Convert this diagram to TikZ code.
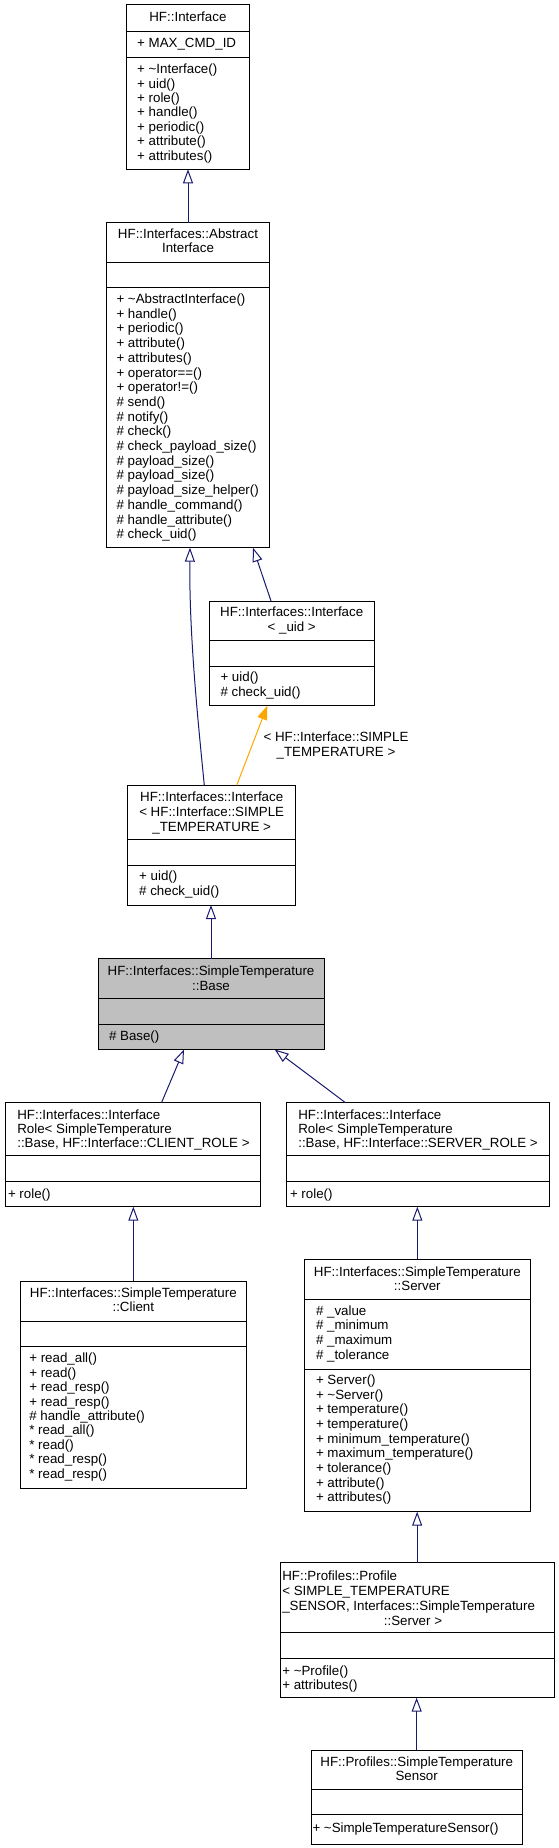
\documentclass[tikz,border=0pt]{standalone}
\usepackage{fontspec}
\setmainfont{Liberation Sans}
\usetikzlibrary{arrows.meta,calc}
\definecolor{edgeblue}{HTML}{191970}
\definecolor{edgeorange}{HTML}{FFA500}
\definecolor{basegray}{HTML}{BFBFBF}
\tikzset{
  clsbox/.style={draw=black, line width=0.75pt, inner sep=0pt, outer sep=0pt},
  clsrule/.style={draw=black, line width=0.75pt},
  txt/.style={inner sep=0pt, outer sep=0pt, font=\fontsize{10pt}{11pt}\selectfont},
  lt/.style={txt, anchor=base west},
  ct/.style={txt, anchor=base},
  inh/.style={draw=edgeblue, line width=0.75pt, -{Triangle[open, length=10.5pt, width=7.5pt]}},
  tmpl/.style={draw=edgeorange, line width=0.75pt, -{Triangle[length=10.5pt, width=7.5pt, fill=edgeorange]}},
}
% name, left, right, top, divider1, divider2, bottom, fill
\newcommand\umlcls[8]{%
  \node[clsbox, fill=#8, anchor=north west, minimum width={(#3-(#2))*0.75pt}, minimum height={(#7-(#4))*0.75pt}] (#1) at (#2,#4) {};
  \draw[clsrule] (#2,#5) -- (#3,#5);
  \draw[clsrule] (#2,#6) -- (#3,#6);
}
% name prefix, x, first baseline, step, style, list of lines
\newcommand\umllines[6]{%
  \foreach \lbl [count=\idx] in {#6} {
    \node[#5] (#1\idx) at (#2,{#3+(\idx-1)*#4}) {\lbl};
  }
}
\begin{document}
\begin{tikzpicture}[x=0.75pt,y=-0.75pt]
\useasboundingbox (0,0) rectangle (559,1848);

% HF::Interface
\umlcls{iface}{126.7}{249}{5}{31.7}{57.3}{169.3}{white}
\umllines{ifaceT}{187.9}{22}{14.5}{ct}{HF::Interface}
\umllines{ifaceA}{137.2}{47.5}{14.5}{lt}{+ MAX\_CMD\_ID}
\umllines{ifaceM}{137.2}{73.8}{14.4}{lt}{+ \textasciitilde Interface(), + uid(), + role(), + handle(), + periodic(), + attribute(), + attributes()}

% AbstractInterface
\umlcls{absif}{106.7}{269.3}{222.7}{262.3}{287.7}{547.7}{white}
\umllines{absifT}{188}{238.5}{14.4}{ct}{HF::Interfaces::Abstract, Interface}
\umllines{absifM}{116.5}{303.5}{14.7}{lt}{+ \textasciitilde AbstractInterface(), + handle(), + periodic(), + attribute(), + attributes(), + operator==(), + operator!=(), \# send(), \# notify(), \# check(), \# check\_payload\_size(), \# payload\_size(), \# payload\_size(), \# payload\_size\_helper(), \# handle\_command(), \# handle\_attribute(), \# check\_uid()}

% Interface< _uid >
\umlcls{ifuid}{209}{374.3}{601}{640}{666}{705.7}{white}
\umllines{ifuidT}{291.7}{616.8}{14.8}{ct}{HF::Interfaces::Interface, < \_uid >}
\umllines{ifuidM}{220.5}{681.8}{14.8}{lt}{+ uid(), \# check\_uid()}

% Interface< HF::Interface::SIMPLE_TEMPERATURE >
\umlcls{ifsimp}{127.7}{295.7}{785.3}{839.3}{865}{905}{white}
\umllines{ifsimpT}{211.7}{801.2}{15}{ct}{HF::Interfaces::Interface, < HF::Interface::SIMPLE, \_TEMPERATURE >}
\umllines{ifsimpM}{139.2}{880.5}{15}{lt}{+ uid(), \# check\_uid()}

% SimpleTemperature::Base
\umlcls{base}{98}{324}{958.5}{998.5}{1024.5}{1049.5}{basegray}
\umllines{baseT}{211}{975.5}{14.5}{ct}{HF::Interfaces::SimpleTemperature, ::Base}
\umllines{baseM}{109}{1040.5}{14.5}{lt}{\# Base()}

% InterfaceRole CLIENT
\umlcls{crole}{5}{260}{1102.7}{1155}{1181}{1206.7}{white}
\umllines{croleT}{17.3}{1119.3}{14.3}{lt}{HF::Interfaces::Interface, Role< SimpleTemperature, {::Base, HF::Interface::CLIENT\_ROLE >}}
\umllines{croleM}{8}{1198.5}{14.5}{lt}{+ role()}

% InterfaceRole SERVER
\umlcls{srole}{286}{549.5}{1102.7}{1155}{1181}{1206.7}{white}
\umllines{sroleT}{298.3}{1119.3}{14.3}{lt}{HF::Interfaces::Interface, Role< SimpleTemperature, {::Base, HF::Interface::SERVER\_ROLE >}}
\umllines{sroleM}{290}{1198.5}{14.5}{lt}{+ role()}

% Client
\umlcls{client}{20}{246.7}{1281}{1321.7}{1346.7}{1488.3}{white}
\umllines{clientT}{133.3}{1297}{14.2}{ct}{HF::Interfaces::SimpleTemperature, ::Client}
\umllines{clientM}{29.3}{1362.8}{14.4}{lt}{+ read\_all(), + read(), + read\_resp(), + read\_resp(), \# handle\_attribute(), * read\_all(), * read(), * read\_resp(), * read\_resp()}

% Server
\umlcls{server}{304}{530.7}{1259}{1299.3}{1369.3}{1511.7}{white}
\umllines{serverT}{417.3}{1276}{14.4}{ct}{HF::Interfaces::SimpleTemperature, ::Server}
\umllines{serverA}{316}{1315.2}{14.6}{lt}{\# \_value, \# \_minimum, \# \_maximum, \# \_tolerance}
\umllines{serverM}{316}{1384.5}{14.67}{lt}{+ Server(), + \textasciitilde Server(), + temperature(), + temperature(), + minimum\_temperature(), + maximum\_temperature(), + tolerance(), + attribute(), + attributes()}

% Profile
\umlcls{profile}{280}{554.3}{1562.7}{1632.7}{1658.3}{1697.7}{white}
\umllines{profileT}{282.3}{1580.5}{14.9}{lt}{HF::Profiles::Profile, < SIMPLE\_TEMPERATURE, {\_SENSOR, Interfaces::SimpleTemperature}}
\umllines{profileU}{413}{1625.2}{14.9}{ct}{::Server >}
\umllines{profileM}{282.3}{1675.5}{14.2}{lt}{+ \textasciitilde Profile(), + attributes()}

% SimpleTemperatureSensor
\umlcls{sensor}{311}{522.3}{1750}{1789.3}{1814.3}{1844}{white}
\umllines{sensorT}{416.7}{1766.2}{14.3}{ct}{HF::Profiles::SimpleTemperature, Sensor}
\umllines{sensorM}{312.5}{1832.8}{14.5}{lt}{+ \textasciitilde SimpleTemperatureSensor()}

% connectors
\draw[inh] (absif.north) -- (absif.north |- iface.south);
\draw[inh] ($(ifuid.north west)+(62,0)$) -- ($(absif.south west)+(146.3,0)$);
\draw[inh] ($(ifsimp.north west)+(76.6,0)$) .. controls ($(ifsimp.north west)+(71.3,-55)$) and ($(absif.south west)+(82.3,90)$) .. ($(absif.south west)+(83.3,0)$);
\draw[tmpl] ($(ifsimp.north west)+(109,0)$) -- ($(ifuid.south west)+(58.3,0)$);
\umllines{tlabel}{336}{741.3}{15}{ct}{< HF::Interface::SIMPLE, \_TEMPERATURE >}
\draw[inh] (base.north) -- (base.north |- ifsimp.south);
\draw[inh] ($(crole.north west)+(156.5,0)$) -- ($(base.south west)+(86,0)$);
\draw[inh] ($(srole.north west)+(59.5,0)$) -- ($(base.south west)+(176.7,0)$);
\draw[inh] (client.north) -- (client.north |- crole.south);
\draw[inh] (server.north) -- (server.north |- srole.south);
\draw[inh] (profile.north) -- (profile.north |- server.south);
\draw[inh] (sensor.north) -- (sensor.north |- profile.south);
\end{tikzpicture}
\end{document}
